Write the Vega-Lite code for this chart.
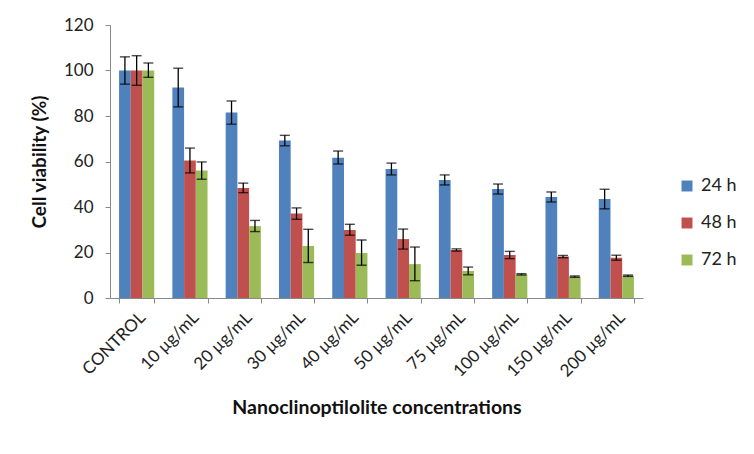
{
  "$schema": "https://vega.github.io/schema/vega-lite/v6.json",
  "autosize": "none",
  "width": 533,
  "height": 273,
  "padding": {"left": 110, "top": 25, "right": 111, "bottom": 156},
  "background": "white",
  "config": {
    "view": {"stroke": null},
    "font": "Lato",
    "axis": {"labelFont": "Lato", "titleFont": "Lato", "domainColor": "#898989", "tickColor": "#898989", "labelColor": "#222", "titleColor": "#111", "grid": false}
  },
  "data": {"values": [
    {"conc": "CONTROL", "time": "24 h", "v": 100, "lo": 94, "hi": 106},
    {"conc": "CONTROL", "time": "48 h", "v": 100, "lo": 93.5, "hi": 106.5},
    {"conc": "CONTROL", "time": "72 h", "v": 100, "lo": 97, "hi": 103.3},
    {"conc": "10 µg/mL", "time": "24 h", "v": 92.5, "lo": 84, "hi": 101},
    {"conc": "10 µg/mL", "time": "48 h", "v": 60.4, "lo": 55, "hi": 65.9},
    {"conc": "10 µg/mL", "time": "72 h", "v": 56, "lo": 52.2, "hi": 59.8},
    {"conc": "20 µg/mL", "time": "24 h", "v": 81.5, "lo": 76.4, "hi": 86.6},
    {"conc": "20 µg/mL", "time": "48 h", "v": 48.4, "lo": 46.3, "hi": 50.5},
    {"conc": "20 µg/mL", "time": "72 h", "v": 31.6, "lo": 29.2, "hi": 34.1},
    {"conc": "30 µg/mL", "time": "24 h", "v": 69.2, "lo": 66.9, "hi": 71.5},
    {"conc": "30 µg/mL", "time": "48 h", "v": 37.1, "lo": 34.6, "hi": 39.6},
    {"conc": "30 µg/mL", "time": "72 h", "v": 22.9, "lo": 15.6, "hi": 30.2},
    {"conc": "40 µg/mL", "time": "24 h", "v": 61.7, "lo": 58.9, "hi": 64.6},
    {"conc": "40 µg/mL", "time": "48 h", "v": 29.9, "lo": 27.6, "hi": 32.4},
    {"conc": "40 µg/mL", "time": "72 h", "v": 19.8, "lo": 14.4, "hi": 25.5},
    {"conc": "50 µg/mL", "time": "24 h", "v": 56.7, "lo": 54.1, "hi": 59.3},
    {"conc": "50 µg/mL", "time": "48 h", "v": 25.9, "lo": 21.5, "hi": 30.3},
    {"conc": "50 µg/mL", "time": "72 h", "v": 14.9, "lo": 7.6, "hi": 22.4},
    {"conc": "75 µg/mL", "time": "24 h", "v": 51.9, "lo": 49.7, "hi": 54.1},
    {"conc": "75 µg/mL", "time": "48 h", "v": 21.1, "lo": 20.6, "hi": 21.6},
    {"conc": "75 µg/mL", "time": "72 h", "v": 11.9, "lo": 10.2, "hi": 13.6},
    {"conc": "100 µg/mL", "time": "24 h", "v": 47.9, "lo": 45.7, "hi": 50.1},
    {"conc": "100 µg/mL", "time": "48 h", "v": 18.9, "lo": 17.3, "hi": 20.5},
    {"conc": "100 µg/mL", "time": "72 h", "v": 10.4, "lo": 10.1, "hi": 10.7},
    {"conc": "150 µg/mL", "time": "24 h", "v": 44.4, "lo": 42.2, "hi": 46.6},
    {"conc": "150 µg/mL", "time": "48 h", "v": 18.2, "lo": 17.7, "hi": 18.7},
    {"conc": "150 µg/mL", "time": "72 h", "v": 9.4, "lo": 9.1, "hi": 9.7},
    {"conc": "200 µg/mL", "time": "24 h", "v": 43.5, "lo": 39.2, "hi": 47.8},
    {"conc": "200 µg/mL", "time": "48 h", "v": 17.7, "lo": 16.6, "hi": 18.8},
    {"conc": "200 µg/mL", "time": "72 h", "v": 9.8, "lo": 9.5, "hi": 10.1}
  ]},
  "encoding": {
    "x": {
      "field": "conc", "type": "nominal", "sort": null,
      "scale": {"paddingInner": 0.34, "paddingOuter": 0.17},
      "axis": {"title": "Nanoclinoptilolite concentrations", "titleFontSize": 19.5, "titleFontWeight": "bold", "titlePadding": 19,
               "labelAngle": -45, "labelFontSize": 17, "tickBand": "extent", "tickSize": 5, "labelPadding": 6}
    },
    "xOffset": {"field": "time", "type": "nominal", "scale": {"padding": 0}}
  },
  "layer": [
    {
      "mark": {"type": "bar"},
      "encoding": {
        "y": {"field": "v", "type": "quantitative",
              "scale": {"domain": [0, 120]},
              "axis": {"title": "Cell viability (%)", "titleFontSize": 19, "titleFontWeight": "bold", "titlePadding": 14,
                       "values": [0, 20, 40, 60, 80, 100, 120], "labelFontSize": 17, "tickSize": 5, "labelPadding": 12}},
        "color": {"field": "time", "type": "nominal",
                  "scale": {"domain": ["24 h", "48 h", "72 h"], "range": ["#4F81BD", "#C0504D", "#9BBB59"]},
                  "legend": {"title": null, "orient": "none", "legendX": 568, "legendY": 152, "symbolType": "square",
                             "symbolSize": 120, "symbolStrokeWidth": 0, "labelFontSize": 18, "labelFont": "Lato", "labelColor": "#222", "rowPadding": 19, "labelOffset": 5}}
      }
    },
    {
      "mark": {"type": "rule", "color": "black", "strokeWidth": 1.3},
      "encoding": {"y": {"field": "lo", "type": "quantitative"}, "y2": {"field": "hi"}}
    },
    {
      "mark": {"type": "tick", "color": "black", "size": 10, "thickness": 1.4},
      "encoding": {"y": {"field": "lo", "type": "quantitative"}}
    },
    {
      "mark": {"type": "tick", "color": "black", "size": 10, "thickness": 1.4},
      "encoding": {"y": {"field": "hi", "type": "quantitative"}}
    }
  ]
}
